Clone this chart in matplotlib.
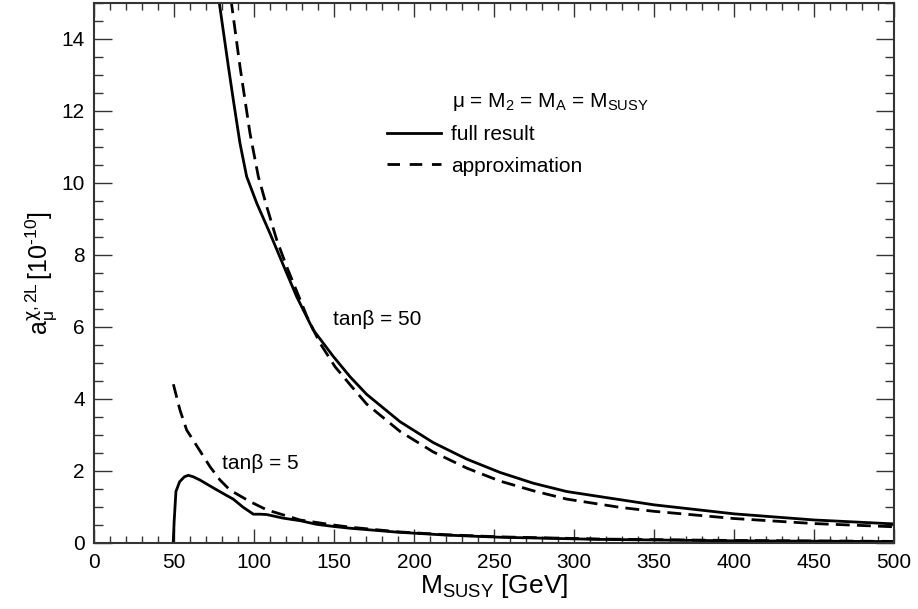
import matplotlib
matplotlib.use('Agg')
import matplotlib.pyplot as plt
from matplotlib.lines import Line2D
from matplotlib.ticker import MultipleLocator

# values
m50_full = [78.0, 84.0, 87.1, 91.25, 95.4, 101.7, 110.0, 118.3, 126.7, 137.0, 149.6,
            160.0, 170.4, 191.25, 212.0, 233.0, 253.75, 274.6, 295.4, 316.0, 350.0,
            400.0, 450.0, 500.0]
a50_full = [15.1, 13.23, 12.3, 11.1, 10.18, 9.44, 8.6, 7.72, 6.84, 5.92, 5.18,
            4.62, 4.13, 3.37, 2.79, 2.33, 1.96, 1.66, 1.43, 1.29, 1.06,
            0.81, 0.64, 0.53]

m50_approx = [85.6, 91.25, 94.4, 97.5, 102.7, 108.0, 114.2, 120.4, 133.0, 141.25,
              150.6, 160.0, 170.4, 191.25, 212.0, 233.0, 253.75, 274.6, 295.4,
              328.75, 350.0, 400.0, 450.0, 500.0]
a50_approx = [15.1, 13.23, 12.3, 11.38, 10.18, 9.34, 8.42, 7.68, 6.3, 5.55,
              4.9, 4.4, 3.86, 3.10, 2.53, 2.08, 1.72, 1.45, 1.22,
              0.99, 0.88, 0.68, 0.54, 0.45]

m5_full = [49.5, 50.1, 51.2, 53.5, 56.5, 59.0, 62.0, 66.2, 75.0, 82.9, 87.0, 93.0,
           99.6, 104.0, 108.0, 118.3, 128.8, 139.0, 149.6, 160.0, 190.0, 220.0,
           253.8, 316.0, 400.0, 500.0]
a5_full = [0.0, 0.6, 1.43, 1.70, 1.84, 1.88, 1.84, 1.75, 1.52, 1.32, 1.22, 1.0,
           0.80, 0.80, 0.79, 0.69, 0.62, 0.52, 0.46, 0.41, 0.30, 0.22,
           0.16, 0.10, 0.06, 0.04]

m5_approx = [49.6, 53.75, 57.9, 72.5, 78.75, 85.0, 97.5, 108.0, 128.75,
             149.6, 160.0, 190.0, 220.0, 253.8, 316.0, 400.0, 500.0]
a5_approx = [4.41, 3.69, 3.14, 2.12, 1.75, 1.47, 1.15, 0.92, 0.64,
             0.50, 0.44, 0.31, 0.23, 0.17, 0.11, 0.07, 0.045]

plt.rcParams['font.family'] = ['Liberation Sans', 'DejaVu Sans']
plt.rcParams['mathtext.fontset'] = 'custom'
plt.rcParams['mathtext.rm'] = 'Liberation Sans'
plt.rcParams['mathtext.it'] = 'Liberation Sans:italic'
plt.rcParams['mathtext.bf'] = 'Liberation Sans:bold'
plt.rcParams['mathtext.sf'] = 'DejaVu Sans'
plt.rcParams['mathtext.default'] = 'regular'

fig = plt.figure(figsize=(9.18, 6.09), dpi=100)
ax = fig.add_axes([94 / 918, 1 - 543 / 609, 800 / 918, 540 / 609])

lw = 2.0
dash = (0, (5, 2.6))
ax.plot(m50_full, a50_full, color='black', lw=lw)
ax.plot(m50_approx, a50_approx, color='black', lw=lw, linestyle=dash)
ax.plot(m5_full, a5_full, color='black', lw=lw)
ax.plot(m5_approx, a5_approx, color='black', lw=lw, linestyle=dash)

ax.set_xlim(0, 500)
ax.set_ylim(0, 15)

# ticks on all sides, pointing in
ax.xaxis.set_major_locator(MultipleLocator(50))
ax.xaxis.set_minor_locator(MultipleLocator(10))
ax.yaxis.set_major_locator(MultipleLocator(2))
ax.yaxis.set_minor_locator(MultipleLocator(0.5))
ax.tick_params(axis='both', which='both', direction='in', top=True, right=True,
               labelsize=15, width=1.0, color='#333333')
ax.tick_params(axis='x', which='major', length=10, pad=7)
ax.tick_params(axis='x', which='minor', length=5)
ax.tick_params(axis='y', which='major', length=13, pad=6.5)
ax.tick_params(axis='y', which='minor', length=6.5)
for s in ax.spines.values():
    s.set_linewidth(1.5)
    s.set_color('#333333')

ax.set_xlabel(r'$M_{SUSY}$ [GeV]', fontsize=19, labelpad=0)
ax.set_ylabel('$a_{\\mu}^{\\mathsf{\\chi},2L}\\,[10^{\u201010}]$', fontsize=18, labelpad=2)

# annotations
ax.text(224, 12.25, r'$\mu$ = M$_2$ = M$_A$ = M$_{SUSY}$', fontsize=15, va='center')
ax.text(149.6, 6.2, 'tanβ = 50', fontsize=15, va='center')
ax.text(79.8, 2.2, 'tanβ = 5', fontsize=15, va='center')

handles = [Line2D([], [], color='black', lw=lw),
           Line2D([], [], color='black', lw=lw, linestyle=(0, (4.5, 3.5)))]
ax.legend(handles, ['full result', 'approximation'], loc='upper left',
          bbox_to_anchor=(0.366, 0.774), frameon=False, fontsize=15,
          handlelength=2.6, handletextpad=0.5, labelspacing=0.6, borderpad=0,
          borderaxespad=0)

plt.savefig('out.png', dpi=100)
